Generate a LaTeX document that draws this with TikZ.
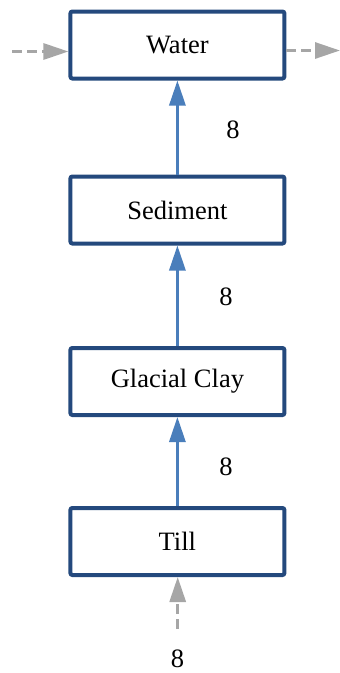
\documentclass[tikz,border=0pt]{standalone}
\usepackage{fontspec}
\setmainfont{Liberation Serif}
\newfontfamily\labelfont{Liberation Serif}
\usetikzlibrary{arrows.meta}

\definecolor{boxblue}{HTML}{24497D}
\definecolor{flowblue}{HTML}{4A7EBB}
\definecolor{fluxgray}{HTML}{A6A6A6}

\tikzset{
  layer/.style={draw=boxblue, line width=4pt, rounded corners=2pt, fill=white,
    minimum width=214pt, minimum height=67pt, inner sep=0pt,
    font=\labelfont\fontsize{26.5}{30}\selectfont},
  flow/.style={draw=flowblue, line width=3pt,
    -{Triangle[length=25pt,width=16pt]}},
  flux/.style={draw=fluxgray, line width=3pt, dash pattern=on 10pt off 5pt,
    -{Triangle[length=25pt,width=16pt]}},
  rate/.style={font=\labelfont\fontsize{26.5}{30}\selectfont, inner sep=0pt}
}

\begin{document}
\begin{tikzpicture}[x=1pt, y=-1pt]
  \useasboundingbox (0,0) rectangle (340,673);

  % compartments, top to bottom
  \node[layer] (water)    at (177.4,45)    {Water};
  \node[layer] (sediment) at (177.4,210)   {Sediment};
  \node[layer] (clay)     at (177.4,381.5) {Glacial Clay};
  \node[layer] (till)     at (177.4,541.5) {Till};

  % upward transfers between compartments
  \draw[flow] (sediment.north) -- (water.south);
  \draw[flow] (clay.north) -- (sediment.south);
  \draw[flow] (till.north) -- (clay.south);

  \node[rate] (r1) at (233,130) {8};
  \node[rate] (r2) at (226,297) {8};
  \node[rate] (r3) at (226,467) {8};

  % external inflow / outflow
  \coordinate (inL)  at (12,51.5);
  \coordinate (outR) at (340,50.5);
  \coordinate (inB)  at (177.7,629);
  \draw[flux] (inL) -- (inL -| water.west);
  \draw[flux] (outR -| water.east) -- (outR);
  \draw[flux] (inB) -- (inB |- till.south);

  \node[rate] (r4) at (177.5,659) {8};
\end{tikzpicture}
\end{document}
